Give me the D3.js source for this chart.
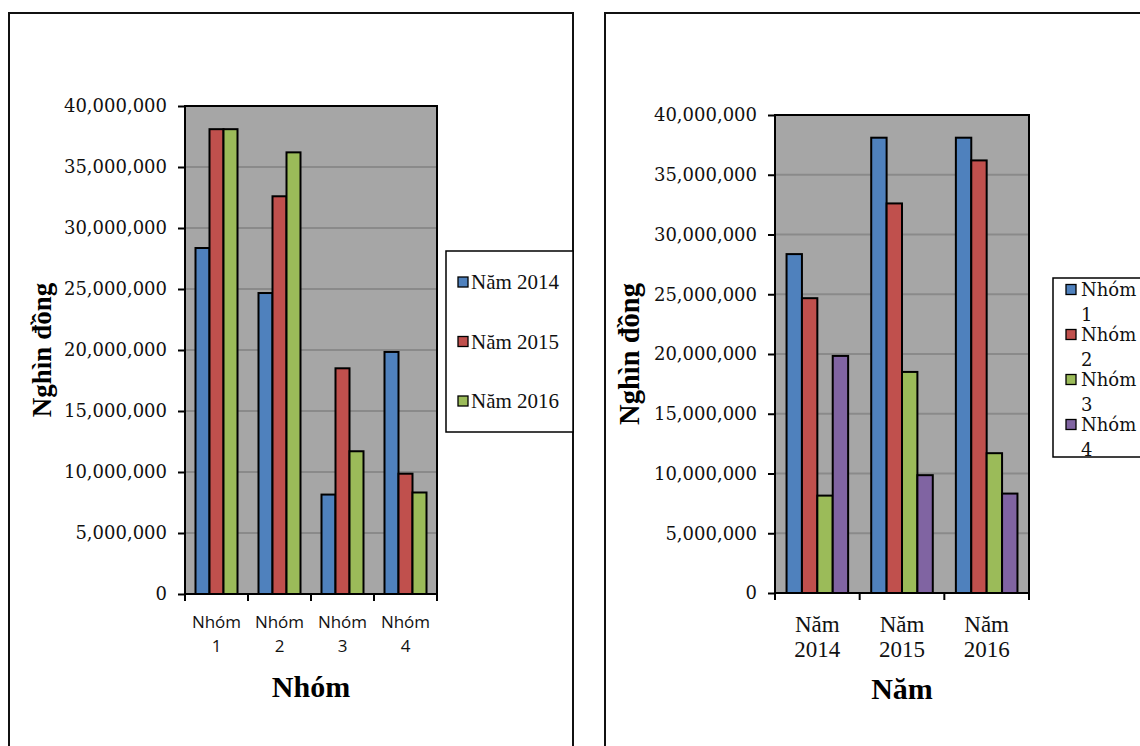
<!DOCTYPE html>
<html>
<head>
<meta charset="utf-8">
<script src="https://cdn.jsdelivr.net/npm/d3@7"></script>
<style>
  body { margin: 0; background: #fff; }
  svg { display: block; }
</style>
</head>
<body>
<svg id="chart" width="1140" height="746"></svg>
<script>
// Income by group and year (thousand VND)
const groups = ["Nhóm 1", "Nhóm 2", "Nhóm 3", "Nhóm 4"];
const years = ["Năm 2014", "Năm 2015", "Năm 2016"];
const nam2014 = [28360000, 24670000, 8150000, 19840000];
const nam2015 = [38100000, 32600000, 18500000, 9860000];
const nam2016 = [38100000, 36200000, 11700000, 8320000];
const yTicks = [0, 5000000, 10000000, 15000000, 20000000, 25000000, 30000000, 35000000, 40000000];
const yearColors = ["#4f81bd", "#c0504d", "#9bbb59"];
const groupColors = ["#4f81bd", "#c0504d", "#9bbb59", "#8064a2"];

const byYear = [nam2014, nam2015, nam2016];
const svg = d3.select("#chart");
const fmt = d3.format(",");

// Outer frames of the two panels
svg.append("rect").attr("x", 9).attr("y", 13).attr("width", 564).attr("height", 800)
  .attr("fill", "none").attr("stroke", "#111").attr("stroke-width", 2);
svg.append("rect").attr("x", 605).attr("y", 13).attr("width", 600).attr("height", 800)
  .attr("fill", "none").attr("stroke", "#111").attr("stroke-width", 2);

function drawChart(o) {
  const g = svg.append("g");
  const x0 = d3.scaleBand().domain(o.categories).range([o.left, o.right]).padding(0);
  const x1 = d3.scaleBand().domain(o.series).range([0, x0.bandwidth()])
    .paddingInner(0).paddingOuter(0.75);
  const y = d3.scaleLinear().domain([0, 40000000]).range([o.bottom, o.top]);

  // plot background
  g.append("rect").attr("x", o.left).attr("y", o.top)
    .attr("width", o.right - o.left).attr("height", o.bottom - o.top)
    .attr("fill", "#a6a6a6");

  // gridlines
  g.selectAll("line.grid").data(yTicks.filter(t => t > 0 && t < 40000000)).join("line")
    .attr("class", "grid")
    .attr("x1", o.left).attr("x2", o.right)
    .attr("y1", d => y(d)).attr("y2", d => y(d))
    .attr("stroke", "#8a8a8a").attr("stroke-width", 2);

  // bars
  o.categories.forEach((c, ci) => {
    g.selectAll(null).data(o.series).join("rect")
      .attr("x", s => x0(c) + x1(s))
      .attr("y", (s, si) => y(o.value(ci, si)))
      .attr("width", x1.bandwidth())
      .attr("height", (s, si) => y(0) - y(o.value(ci, si)))
      .attr("fill", (s, si) => o.colors[si])
      .attr("stroke", "#000").attr("stroke-width", 2);
  });

  // plot border
  g.append("rect").attr("x", o.left).attr("y", o.top)
    .attr("width", o.right - o.left).attr("height", o.bottom - o.top)
    .attr("fill", "none").attr("stroke", "#000").attr("stroke-width", 2);

  // y axis
  const ya = g.append("g").attr("transform", `translate(${o.left},0)`)
    .call(d3.axisLeft(y).tickValues(yTicks).tickFormat(fmt).tickSize(7).tickPadding(11));
  ya.select(".domain").remove();
  ya.selectAll(".tick line").attr("stroke", "#000").attr("stroke-width", 2);
  ya.selectAll(".tick text").attr("font-family", "DejaVu Serif").attr("font-size", 18)
    .attr("fill", "#111");

  // x axis ticks at category boundaries
  const edges = o.categories.map(c => x0(c)).concat([o.right]);
  g.selectAll(null).data(edges).join("line")
    .attr("x1", d => d).attr("x2", d => d)
    .attr("y1", o.bottom).attr("y2", o.bottom + 7)
    .attr("stroke", "#000").attr("stroke-width", 2);

  // category labels (two lines)
  o.categories.forEach(c => {
    const parts = c.split(" ");
    const t = g.append("text").attr("text-anchor", "middle")
      .attr("font-family", o.catFont).attr("font-size", o.catSize).attr("fill", "#111");
    parts.forEach((p, i) => {
      t.append("tspan").attr("x", x0(c) + x0.bandwidth() / 2)
        .attr("y", o.catBase[i]).text(p);
    });
  });

  // axis titles
  g.append("text").attr("text-anchor", "middle")
    .attr("transform", `translate(${o.yTitleX},${(o.top + o.bottom) / 2}) rotate(-90)`)
    .attr("font-family", "Liberation Serif").attr("font-weight", "bold")
    .attr("font-size", o.yTitleSize).attr("fill", "#000").text("Nghìn đồng");
  g.append("text").attr("text-anchor", "middle")
    .attr("x", (o.left + o.right) / 2).attr("y", o.xTitleY)
    .attr("font-family", "Liberation Serif").attr("font-weight", "bold")
    .attr("font-size", 30).attr("fill", "#000").text(o.xTitle);

  // legend
  const L = o.legend;
  g.append("rect").attr("x", L.x).attr("y", L.y).attr("width", L.w).attr("height", L.h)
    .attr("fill", "#fff").attr("stroke", "#000").attr("stroke-width", 1.5);
  o.series.forEach((s, si) => {
    const cy = L.firstY + si * L.step;
    g.append("rect").attr("x", L.x + L.swX).attr("y", cy - 5).attr("width", 10).attr("height", 10)
      .attr("fill", o.colors[si]).attr("stroke", "#000").attr("stroke-width", 1.3);
    const t = g.append("text").attr("font-family", L.font).attr("font-size", L.size).attr("fill", "#111");
    const lines = L.wrap ? s.split(" ") : [s];
    lines.forEach((p, i) => {
      t.append("tspan").attr("x", L.x + L.txX).attr("y", cy + L.base + i * L.lineGap).text(p);
    });
  });
}

// Left panel: groups on the x axis, one bar per year
drawChart({
  left: 185, right: 437, top: 106, bottom: 594,
  categories: groups, series: years,
  value: (ci, si) => byYear[si][ci],
  colors: yearColors,
  catFont: "Open Sans", catSize: 17, catBase: [628, 652],
  yTitleX: 51, yTitleSize: 27,
  xTitle: "Nhóm", xTitleY: 697,
  legend: { x: 446, y: 251, w: 127, h: 181, firstY: 282, step: 59.5, swX: 12, txX: 25,
            font: "Liberation Serif", size: 21, base: 7, wrap: false, lineGap: 0 }
});

// Right panel: years on the x axis, one bar per group
drawChart({
  left: 775, right: 1029, top: 115, bottom: 593,
  categories: years, series: groups,
  value: (ci, si) => byYear[ci][si],
  colors: groupColors,
  catFont: "Liberation Serif", catSize: 23, catBase: [631.5, 656.5],
  yTitleX: 639, yTitleSize: 28.5,
  xTitle: "Năm", xTitleY: 699,
  legend: { x: 1053, y: 278, w: 100, h: 179, firstY: 289.5, step: 45, swX: 13, txX: 28,
            font: "DejaVu Serif", size: 18, base: 6.5, wrap: true, lineGap: 24.5 }
});
</script>
</body>
</html>
